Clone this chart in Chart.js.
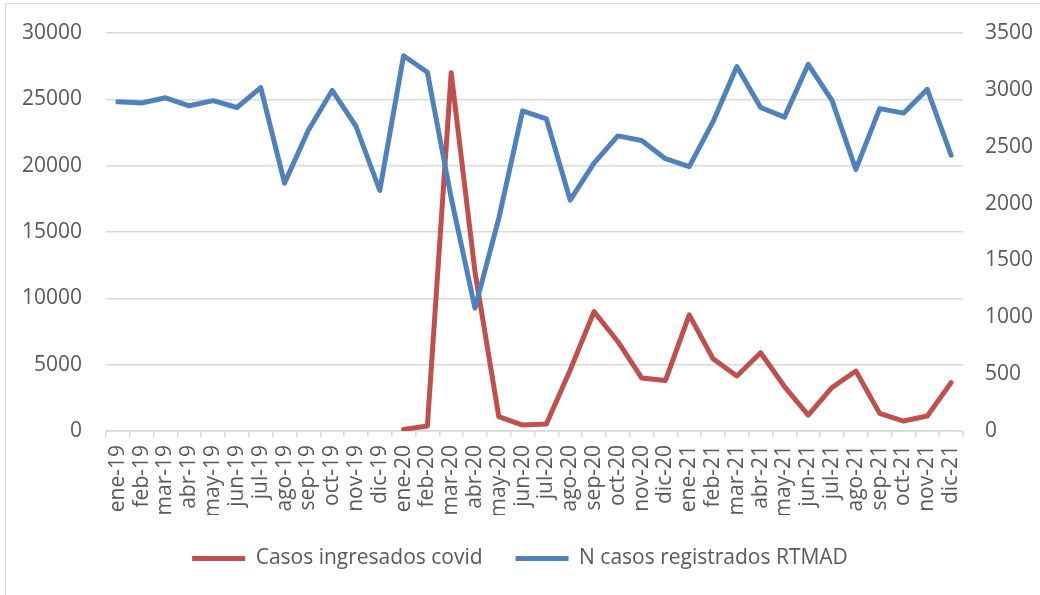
<!DOCTYPE html>
<html>
<head>
  <title>Casos ingresados covid vs N casos registrados RTMAD</title>
  <script src="https://cdn.jsdelivr.net/npm/chart.js"></script>
  <style>
    html, body { margin: 0; padding: 0; background: #fff; }
    #wrap { position: relative; width: 1040px; height: 595px; overflow: hidden; }
    #frame { position: absolute; left: 5px; top: 3px; width: 1100px; height: 700px; border: 1px solid #d9d9d9; }
    #chart { position: absolute; left: 0; top: 0; }
  </style>
</head>
<body>
  <div id="wrap">
    <div id="frame"></div>
    <canvas id="chart" width="1040" height="595"></canvas>
  </div>

  <script>
    const meses = [
      "ene-19", "feb-19", "mar-19", "abr-19", "may-19", "jun-19", "jul-19", "ago-19", "sep-19", "oct-19", "nov-19", "dic-19",
      "ene-20", "feb-20", "mar-20", "abr-20", "may-20", "jun-20", "jul-20", "ago-20", "sep-20", "oct-20", "nov-20", "dic-20",
      "ene-21", "feb-21", "mar-21", "abr-21", "may-21", "jun-21", "jul-21", "ago-21", "sep-21", "oct-21", "nov-21", "dic-21"
    ];

    // eje izquierdo
    const casosCovid = [
      null, null, null, null, null, null, null, null, null, null, null, null,
      120, 370, 27000, 12000, 1080, 450, 530, 4600, 9000, 6750, 4000, 3800,
      8750, 5450, 4150, 5900, 3350, 1200, 3280, 4520, 1330, 750, 1130, 3650
    ];

    // eje derecho
    const casosRTMAD = [
      2895, 2885, 2930, 2860, 2905, 2845, 3020, 2180, 2645, 2995, 2680, 2115,
      3300, 3155, 2050, 1080, 1870, 2815, 2745, 2030, 2355, 2595, 2555, 2395,
      2325, 2720, 3205, 2845, 2760, 3225, 2905, 2300, 2835, 2795, 3005, 2425
    ];

    const ticksIzq = { min: 0, max: 30000, step: 5000 };
    const ticksDer = { min: 0, max: 3500, step: 500 };

    const gris = '#595959';
    const fuente = { family: "'Open Sans', sans-serif", size: 21 };
    const sinComa = v => String(v);

    new Chart(document.getElementById('chart'), {
      type: 'line',
      data: {
        labels: meses,
        datasets: [
          {
            label: 'N casos registrados RTMAD',
            data: casosRTMAD,
            yAxisID: 'y2',
            borderColor: '#4f81bd',
            backgroundColor: '#4f81bd',
            borderWidth: 5,
            borderCapStyle: 'round',
            borderJoinStyle: 'round',
            pointRadius: 0,
            tension: 0
          },
          {
            label: 'Casos ingresados covid',
            data: casosCovid,
            yAxisID: 'y',
            borderColor: '#c0504d',
            backgroundColor: '#c0504d',
            borderWidth: 5,
            borderCapStyle: 'round',
            borderJoinStyle: 'round',
            pointRadius: 0,
            tension: 0
          }
        ]
      },
      options: {
        responsive: false,
        animation: false,
        layout: { padding: { top: 33, bottom: 16, left: 0, right: 0 } },
        plugins: {
          tooltip: { enabled: false },
          legend: {
            position: 'bottom',
            reverse: true,
            labels: {
              color: gris,
              font: fuente,
              usePointStyle: true,
              pointStyle: 'line',
              pointStyleWidth: 53,
              padding: 33
            }
          }
        },
        scales: {
          x: {
            offset: true,
            grid: {
              offset: true,
              drawOnChartArea: false,
              drawTicks: true,
              tickLength: 6,
              color: '#d9d9d9',
              lineWidth: 1.5
            },
            border: { display: true, color: '#d9d9d9', width: 1.5 },
            ticks: {
              color: gris,
              font: fuente,
              minRotation: 90,
              maxRotation: 90,
              autoSkip: false,
              padding: 8
            },
            afterFit: s => { s.height = 84; s.paddingTop = 0; }
          },
          y: {
            position: 'left',
            min: ticksIzq.min,
            max: ticksIzq.max,
            ticks: { stepSize: ticksIzq.step, color: gris, font: fuente, padding: 24, callback: sinComa },
            grid: { color: '#d9d9d9', lineWidth: 1.5, drawTicks: false },
            border: { display: false },
            afterFit: s => { s.width = 106; s.paddingTop = 0; s.paddingBottom = 0; }
          },
          y2: {
            position: 'right',
            min: ticksDer.min,
            max: ticksDer.max,
            ticks: { stepSize: ticksDer.step, color: gris, font: fuente, padding: 22, callback: sinComa },
            grid: { display: false, drawTicks: false },
            border: { display: false },
            afterFit: s => { s.width = 77; s.paddingTop = 0; s.paddingBottom = 0; }
          }
        }
      }
    });
  </script>
</body>
</html>
